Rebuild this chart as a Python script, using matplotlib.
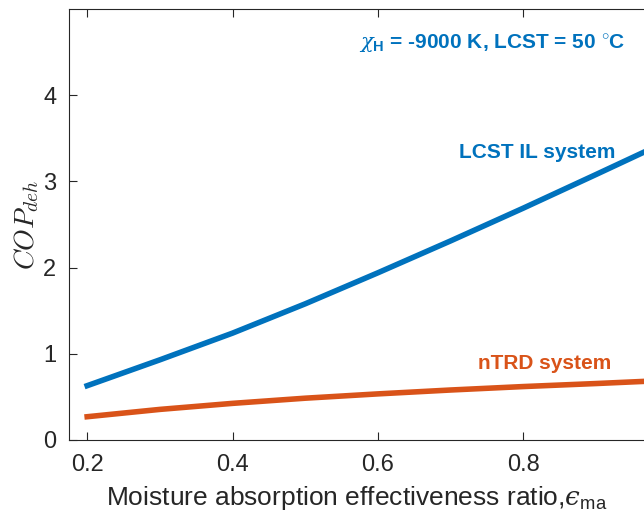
import numpy as np
import matplotlib
matplotlib.use('Agg')
import matplotlib.pyplot as plt

plt.rcParams['font.family'] = ['Liberation Sans', 'DejaVu Sans']
plt.rcParams['mathtext.fontset'] = 'custom'
plt.rcParams['mathtext.rm'] = 'Liberation Sans'
plt.rcParams['mathtext.bf'] = 'Liberation Sans:bold'
plt.rcParams['mathtext.it'] = 'DejaVu Serif:italic'

# values
eps_ma = [0.2, 0.3, 0.4, 0.5, 0.6, 0.7, 0.8, 0.9, 0.966]
cop_lcst = [0.63, 0.93, 1.24, 1.58, 1.94, 2.31, 2.69, 3.08, 3.34]
cop_ntrd = [0.27, 0.355, 0.425, 0.485, 0.535, 0.58, 0.62, 0.655, 0.68]

blue = '#0072BD'
orange = '#D95319'
axc = '#262626'

fig = plt.figure(figsize=(6.44, 5.27), dpi=100)
ax = fig.add_axes([69 / 644, 87 / 527, 1 - 69 / 644, 431 / 527])

ax.plot(eps_ma, cop_lcst, color=blue, lw=4)
ax.plot(eps_ma, cop_ntrd, color=orange, lw=4)

ax.set_xlim(0.175, 0.966)
ax.set_ylim(0, 5)
ax.set_xticks([0.2, 0.4, 0.6, 0.8])
ax.set_yticks([0, 1, 2, 3, 4])
ax.set_xticklabels(['0.2', '0.4', '0.6', '0.8'])
ax.tick_params(direction='in', length=6, width=0.8, colors=axc,
               labelsize=17, top=True, pad=10)
ax.tick_params(axis='y', pad=9)
for s in ['left', 'bottom', 'top']:
    ax.spines[s].set_color(axc)
    ax.spines[s].set_linewidth(0.8)
ax.spines['right'].set_visible(False)

ax.set_xlabel('Moisture absorption effectiveness ratio,$\u03f5_{\\mathrm{ma}}$',
              fontsize=19, color=axc, labelpad=6)
ax.set_ylabel(r'$COP_{deh}$', fontsize=20, color=axc, math_fontfamily='cm',
              labelpad=2)

ax.text(0.940, 4.54, r'$\chi_{\mathbf{H}}$ = -9000 K, LCST = 50 $^{\circ}$C',
        color=blue, fontsize=15, fontweight='bold', ha='right', va='baseline')
ax.text(0.9266, 3.27, 'LCST IL system', color=blue, fontsize=15,
        fontweight='bold', ha='right', va='baseline')
ax.text(0.921, 0.82, 'nTRD system', color=orange, fontsize=15,
        fontweight='bold', ha='right', va='baseline')

fig.savefig('out.png', dpi=100)
